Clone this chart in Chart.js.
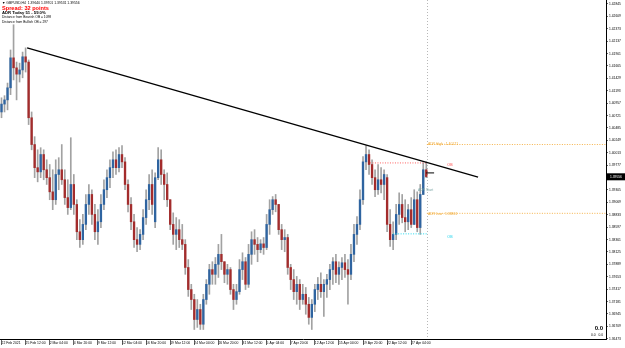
<!DOCTYPE html>
<html><head><meta charset="utf-8">
<script src="https://cdn.jsdelivr.net/npm/chart.js@4/dist/chart.umd.min.js"></script>
<style>html,body{margin:0;padding:0;background:#fff;overflow:hidden}canvas{display:block}</style>
</head><body>
<canvas id="c" width="625" height="348"></canvas>
<script>
// Prices in points (price x 10000). One candle per index.
const highP = [14106,14110,14134,14197,14245,14174,14172,14193,14201,14178,
14079,14032,14007,14011,14007,13988,13979,13969,13988,13992,
14017,13969,13950,14030,13960,13912,13874,13884,13922,13941,
13931,13903,13893,13922,13950,13969,13988,14003,14007,14011,
14015,13992,13950,13916,13884,13859,13855,13893,13931,13960,
13969,13963,14011,14007,13969,13963,13912,13887,13878,13874,
13865,13836,13798,13751,13732,13722,13713,13732,13760,13789,
13794,13802,13827,13846,13794,13789,13783,13751,13751,13798,
13811,13802,13827,13851,13855,13840,13836,13840,13884,13912,
13918,13922,13903,13865,13855,13846,13789,13779,13766,13760,
13751,13745,13726,13722,13751,13764,13773,13760,13770,13789,
13802,13808,13794,13802,13808,13798,13827,13865,13880,13931,
13994,14015,14007,13988,13969,13979,13973,13969,13960,13893,
13870,13903,13925,13922,13912,13903,13916,13931,13927,13941,
13982,13984];
const lowP = [14068,14079,14083,14112,14140,14102,14136,14144,14155,14055,
14007,13954,13946,13954,13950,13941,13912,13893,13903,13931,
13941,13903,13884,13893,13884,13836,13821,13827,13855,13884,
13865,13836,13827,13859,13893,13916,13935,13954,13960,13965,
13973,13931,13889,13855,13821,13813,13817,13836,13865,13893,
13884,13859,13950,13941,13912,13899,13855,13827,13817,13821,
13817,13770,13728,13703,13665,13669,13665,13665,13713,13732,
13751,13751,13764,13779,13754,13751,13732,13703,13713,13732,
13760,13741,13745,13789,13808,13794,13811,13808,13817,13846,
13884,13889,13846,13817,13813,13770,13741,13722,13713,13703,
13713,13694,13675,13665,13699,13722,13726,13690,13726,13741,
13751,13754,13751,13760,13764,13713,13760,13794,13827,13855,
13903,13969,13960,13941,13918,13922,13925,13912,13851,13823,
13817,13836,13865,13868,13851,13855,13859,13865,13851,13846,
13922,13954];
const openP = [14079,14094,14102,14125,14182,14163,14151,14159,14184,14174,
14068,14017,13973,13965,13998,13969,13954,13927,13912,13960,
13969,13950,13916,13897,13941,13903,13851,13836,13865,13903,
13922,13884,13851,13870,13903,13931,13954,13973,13988,13973,
13998,13984,13941,13903,13870,13836,13827,13846,13878,13912,
13941,13870,13954,13988,13960,13941,13912,13865,13846,13855,
13836,13827,13783,13741,13722,13684,13703,13675,13722,13751,
13779,13770,13789,13808,13794,13770,13779,13741,13722,13737,
13779,13794,13751,13808,13836,13827,13817,13828,13821,13865,
13893,13912,13903,13855,13836,13840,13783,13760,13737,13751,
13722,13732,13713,13688,13713,13741,13751,13737,13751,13760,
13779,13794,13770,13783,13792,13779,13770,13808,13846,13865,
13912,13984,13998,13979,13954,13931,13950,13941,13954,13865,
13836,13846,13884,13903,13878,13870,13893,13865,13912,13859,
13922,13969];
const closeP = [14094,14102,14125,14182,14163,14151,14159,14184,14174,14068,
14017,13973,13965,13998,13969,13954,13927,13912,13960,13969,
13950,13916,13897,13941,13903,13851,13836,13865,13903,13922,
13884,13851,13870,13903,13931,13954,13973,13988,13973,13998,
13984,13941,13903,13870,13836,13827,13846,13878,13912,13941,
13903,13954,13988,13960,13941,13912,13865,13846,13855,13836,
13827,13783,13741,13722,13684,13703,13675,13722,13751,13779,
13770,13789,13808,13794,13770,13779,13741,13722,13737,13779,
13794,13751,13808,13836,13827,13817,13828,13821,13865,13893,
13912,13903,13855,13836,13840,13783,13760,13737,13751,13722,
13732,13713,13688,13713,13741,13751,13737,13751,13760,13779,
13794,13770,13783,13792,13779,13770,13808,13846,13865,13912,
13984,13998,13979,13954,13931,13950,13941,13960,13865,13836,
13846,13884,13903,13878,13870,13893,13865,13912,13859,13922,
13969,13956];

const xTickIndex = [0,8,16,24,32,40,48,56,64,72,80,88,96,104,112,120,128,136];
const xTickLabels = ["22 Feb 2021","25 Feb 12:00","2 Mar 04:00","4 Mar 20:00","9 Mar 12:00","12 Mar 04:00","16 Mar 20:00","19 Mar 12:00","24 Mar 04:00","26 Mar 20:00","31 Mar 12:00","5 Apr 04:00","7 Apr 20:00","12 Apr 12:00","15 Apr 04:00","19 Apr 20:00","22 Apr 12:00","27 Apr 04:00"];
const yTickLabels = ["1.42845","1.42609","1.42373","1.42137","1.41901","1.41665","1.41429","1.41193","1.40957","1.40721","1.40485","1.40249","1.40013","1.39777","1.39541","1.39305","1.39069","1.38833","1.38597","1.38361","1.38125","1.37889","1.37653","1.37417","1.37181","1.36945","1.36709","1.36473"];

const trendPts = [{x:8.5,y:14201},{x:158.2,y:13955}];
const adrHighVal = 14017.1, adrLowVal = 13886.1;
const bearOBVal = 13982, bullOBVal = 13847;
const lastPriceVal = 13955.6, lastMarkVal = 13963;
const dayStart = 141.2, xMaxVal = 200.66, yMinVal = 13646.9, yMaxVal = 14292.1;

const FONT = '"Liberation Sans", Arial, sans-serif';
const bullC = '#2f64a0', bearC = '#a32c2c';

const overlay = {
  id: 'overlay',
  beforeDatasetsDraw(chart) {
    const {ctx, scales:{x}, chartArea:a} = chart;
    const px = Math.round(x.getPixelForValue(dayStart)) + 0.5;
    ctx.save();
    ctx.strokeStyle = '#b8b8b8'; ctx.lineWidth = 1; ctx.setLineDash([1,2]);
    ctx.beginPath(); ctx.moveTo(px, a.top); ctx.lineTo(px, a.bottom); ctx.stroke();
    ctx.restore();
  },
  afterDatasetsDraw(chart) {
    const {ctx, scales:{x, y}} = chart;
    ctx.save();
    ctx.textBaseline = 'middle';
    ctx.font = '3.4px ' + FONT;
    const sx = x.getPixelForValue(dayStart) + 1;
    ctx.fillStyle = '#f0a830';
    ctx.fillText('ADR High : ' + (adrHighVal/10000).toFixed(5), sx, y.getPixelForValue(adrHighVal) - 0.5);
    ctx.fillText('ADR Low : ' + (adrLowVal/10000).toFixed(5), sx, y.getPixelForValue(adrLowVal) + 0.5);
    ctx.fillStyle = '#7aa6a6';
    ctx.fillText('ADR Start', x.getPixelForValue(dayStart) - 9, y.getPixelForValue(13930));
    ctx.font = '3.6px ' + FONT;
    ctx.fillStyle = '#ff4040';
    ctx.fillText('OB', x.getPixelForValue(148), y.getPixelForValue(bearOBVal - 4));
    ctx.fillStyle = '#10d0ea';
    ctx.fillText('OB', x.getPixelForValue(148), y.getPixelForValue(bullOBVal - 6));
    ctx.restore();
  },
  afterDraw(chart) {
    const {ctx, scales:{y}} = chart;
    ctx.save();
    ctx.textBaseline = 'middle';
    ctx.fillStyle = '#000';
    ctx.font = '3.4px ' + FONT;
    ctx.fillText('\u25BC GBPUSD,H4  1.39640 1.39701 1.39531 1.39556', 2, 3.5);
    ctx.font = 'bold 5.6px ' + FONT;
    ctx.fillStyle = '#ff0000';
    ctx.fillText('Spread: 32 points', 2, 8);
    ctx.font = 'bold 4.2px ' + FONT;
    ctx.fillStyle = '#000';
    ctx.fillText('ADR Today 51 - 59.0%', 2, 12.5);
    ctx.font = '3.3px ' + FONT;
    ctx.fillText('Distance from Bearish OB = 1098', 2, 17);
    ctx.fillText('Distance from Bullish OB = 297', 2, 22.5);
    const py = y.getPixelForValue(lastPriceVal);
    ctx.fillStyle = '#000';
    ctx.fillRect(607, py - 3.5, 18, 7);
    ctx.fillStyle = '#fff';
    ctx.font = '3.3px ' + FONT;
    ctx.fillText((lastPriceVal/10000).toFixed(5), 610, py);
    ctx.fillStyle = '#000';
    ctx.textAlign = 'right';
    ctx.font = 'bold 6px ' + FONT;
    ctx.fillText('0.0', 603, 328.5);
    ctx.font = '3.3px ' + FONT;
    ctx.fillText('0.0   0.0', 603, 335);
    ctx.restore();
  }
};

const dotted = (data, color) => ({type:'line', data, borderColor:color, borderWidth:1, borderDash:[1,1.5], pointRadius:0, fill:false, order:0});

new Chart(document.getElementById('c'), {
  type: 'bar',
  data: {
    datasets: [
      {type:'line', data: trendPts, borderColor:'#000', borderWidth:1.3, pointRadius:0, fill:false, order:0},
      dotted([{x:dayStart,y:adrHighVal},{x:xMaxVal,y:adrHighVal}], '#f5b24a'),
      dotted([{x:dayStart,y:adrLowVal},{x:xMaxVal,y:adrLowVal}], '#f5b24a'),
      dotted([{x:122.3,y:bearOBVal},{x:dayStart,y:bearOBVal}], '#ff6060'),
      dotted([{x:130,y:bullOBVal},{x:dayStart,y:bullOBVal}], '#20d8ee'),
      {type:'line', data:[{x:141,y:lastMarkVal},{x:143.6,y:lastMarkVal}], borderColor:'#000', borderWidth:1, pointRadius:0, order:0},
      {label:'bodies', data: openP.map((o,i)=>({x:i, y:[o, closeP[i]]})),
       backgroundColor: openP.map((o,i)=> closeP[i] >= o ? bullC : bearC),
       barThickness: 1.7, grouped:false, borderWidth:0, order:1},
      {label:'wicks', data: highP.map((h,i)=>({x:i, y:[lowP[i], h]})),
       backgroundColor:'#a2a2a2', barThickness: 1, grouped:false, borderWidth:0, order:2}
    ]
  },
  options: {
    responsive:false, animation:false, devicePixelRatio:1,
    layout:{padding:0},
    plugins:{legend:{display:false}, tooltip:{enabled:false}},
    scales:{
      x:{type:'linear', min:-0.5, max:xMaxVal, offset:false,
        afterBuildTicks: s => { s.ticks = xTickIndex.map(v=>({value:v})); },
        afterFit: s => { s.height = 9; s.paddingLeft = 0; s.paddingRight = 0; },
        ticks:{autoSkip:false, maxRotation:0, align:'start', padding:-4, color:'#000',
          font:{family:FONT, size:3.4}, callback:(v,i)=> xTickLabels[i]},
        grid:{drawOnChartArea:false, drawTicks:true, tickLength:6, color:'#000', lineWidth:0.6, offset:false},
        border:{display:true, color:'#000', width:1}
      },
      y:{type:'linear', position:'right', min:yMinVal, max:yMaxVal,
        afterBuildTicks: s => { s.ticks = yTickLabels.map(t=>({value: parseFloat(t)*10000})); },
        afterFit: s => { s.width = 19; s.paddingTop = 0; s.paddingBottom = 0; },
        ticks:{autoSkip:false, padding:1, color:'#000', font:{family:FONT, size:3.3}, callback:(v,i)=> yTickLabels[i]},
        grid:{drawOnChartArea:false, drawTicks:true, tickLength:2, color:'#000', lineWidth:0.6},
        border:{display:true, color:'#000', width:1}
      }
    }
  },
  plugins:[overlay]
});
</script>
</body></html>
